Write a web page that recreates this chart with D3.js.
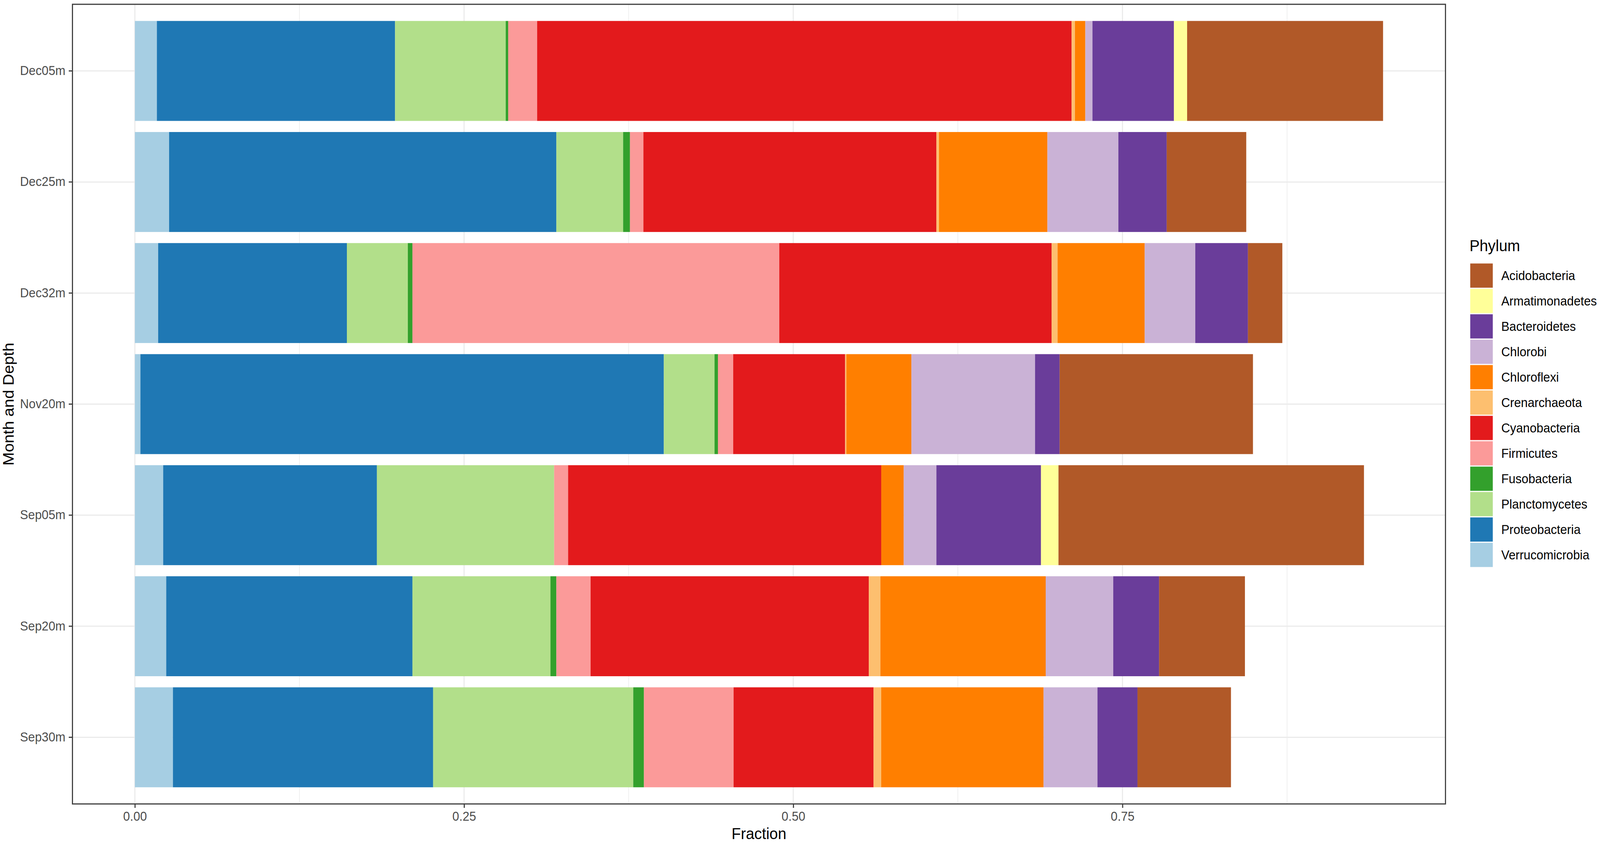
<!DOCTYPE html>
<html lang="en">

<head>
    <meta charset="utf-8">
    <title>Phylum by month and depth</title>
    <script type="text/javascript" src="https://cdn.jsdelivr.net/npm/d3@7"></script>
    <style>
        html, body { margin: 0; padding: 0; background: #ffffff; overflow: hidden; }
        #container { width: 100vw; height: 100vh; }
        svg { display: block; }
        text { font-family: "Liberation Sans", Arial, Helvetica, sans-serif; }
    </style>
</head>

<body>
    <div id="container"></div>
    <script type="text/javascript">
        // samples, top to bottom
        var samples = ["Dec05m", "Dec25m", "Dec32m", "Nov20m", "Sep05m", "Sep20m", "Sep30m"];

        // legend order (top to bottom); bars stack the other way round
        var phyla = ["Acidobacteria", "Armatimonadetes", "Bacteroidetes", "Chlorobi", "Chloroflexi",
            "Crenarchaeota", "Cyanobacteria", "Firmicutes", "Fusobacteria", "Planctomycetes",
            "Proteobacteria", "Verrucomicrobia"];
        var colours = ["#B15928", "#FFFF99", "#6A3D9A", "#CAB2D6", "#FF7F00", "#FDBF6F",
            "#E31A1C", "#FB9A99", "#33A02C", "#B2DF8A", "#1F78B4", "#A6CEE3"];

        // fraction of each phylum, same order as samples
        var acidobacteria   = [0.1488, 0.0604, 0.0261, 0.1468, 0.2320, 0.0652, 0.0710];
        var armatimonadetes = [0.0100, 0.0000, 0.0000, 0.0000, 0.0133, 0.0000, 0.0000];
        var bacteroidetes   = [0.0619, 0.0367, 0.0400, 0.0187, 0.0794, 0.0348, 0.0304];
        var chlorobi        = [0.0054, 0.0539, 0.0384, 0.0939, 0.0248, 0.0513, 0.0409];
        var chloroflexi     = [0.0079, 0.0823, 0.0662, 0.0494, 0.0171, 0.1255, 0.1233];
        var crenarchaeota   = [0.0025, 0.0020, 0.0045, 0.0009, 0.0000, 0.0088, 0.0058];
        var cyanobacteria   = [0.4059, 0.2225, 0.2068, 0.0850, 0.2378, 0.2113, 0.1063];
        var firmicutes      = [0.0220, 0.0102, 0.2786, 0.0116, 0.0106, 0.0260, 0.0681];
        var fusobacteria    = [0.0019, 0.0052, 0.0035, 0.0026, 0.0000, 0.0045, 0.0081];
        var planctomycetes  = [0.0840, 0.0507, 0.0463, 0.0385, 0.1346, 0.1048, 0.1520];
        var proteobacteria  = [0.1809, 0.2941, 0.1433, 0.3975, 0.1623, 0.1870, 0.1976];
        var verrucomicrobia = [0.0167, 0.0260, 0.0177, 0.0042, 0.0215, 0.0238, 0.0289];

        var xTicks = [0, 0.25, 0.5, 0.75];
        var xMinor = [0.125, 0.375, 0.625, 0.875];

        var values = [acidobacteria, armatimonadetes, bacteroidetes, chlorobi, chloroflexi,
            crenarchaeota, cyanobacteria, firmicutes, fusobacteria, planctomycetes,
            proteobacteria, verrucomicrobia];

        var w = 4328;
        var h = 2158;
        var panel = { left: 196, right: 3910, top: 11, bottom: 2058 };

        // drawn in 4328x2158 units, scaled to whatever the viewport is
        const svg = d3.select("div#container")
            .append("svg")
            .attr("viewBox", "0 0 " + w + " " + h)
            .attr("preserveAspectRatio", "none")
            .attr("width", "100%")
            .attr("height", "100%")
            .style("background-color", "#ffffff");

        // one row per sample for d3.stack
        var table = samples.map(function (s, i) {
            var row = { sample: s };
            phyla.forEach(function (p, j) { row[p] = values[j][i]; });
            return row;
        });
        var stackKeys = phyla.slice().reverse();
        var series = d3.stack().keys(stackKeys)(table);

        var color = d3.scaleOrdinal().domain(phyla).range(colours);

        // 5% expansion like ggplot
        var maxTotal = d3.max(series[series.length - 1], (d) => d[1]);
        var pad = maxTotal * 0.05;
        var x = d3.scaleLinear().domain([-pad, maxTotal + pad]).range([panel.left, panel.right]);
        var y = d3.scaleBand().domain(samples).range([panel.top, panel.bottom])
            .paddingInner(0.1).paddingOuter(0.15);

        // grid
        var grid = svg.append("g");
        grid.selectAll("line.minor")
            .data(xMinor)
            .enter()
            .append("line")
            .attr("x1", (d) => x(d)).attr("x2", (d) => x(d))
            .attr("y1", panel.top).attr("y2", panel.bottom)
            .attr("stroke", "#EBEBEB").attr("stroke-width", 1.6);
        grid.selectAll("line.majorx")
            .data(xTicks)
            .enter()
            .append("line")
            .attr("x1", (d) => x(d)).attr("x2", (d) => x(d))
            .attr("y1", panel.top).attr("y2", panel.bottom)
            .attr("stroke", "#EBEBEB").attr("stroke-width", 3);
        grid.selectAll("line.majory")
            .data(samples)
            .enter()
            .append("line")
            .attr("x1", panel.left).attr("x2", panel.right)
            .attr("y1", (d) => y(d) + y.bandwidth() / 2).attr("y2", (d) => y(d) + y.bandwidth() / 2)
            .attr("stroke", "#EBEBEB").attr("stroke-width", 3);

        // stacked bars
        svg.append("g")
            .selectAll("g")
            .data(series)
            .enter()
            .append("g")
            .attr("fill", (d) => color(d.key))
            .selectAll("rect")
            .data((d) => d)
            .enter()
            .append("rect")
            .attr("x", (d) => x(d[0]))
            .attr("width", (d) => Math.max(0, x(d[1]) - x(d[0])))
            .attr("y", (d) => y(d.data.sample))
            .attr("height", y.bandwidth());

        // panel border
        svg.append("rect")
            .attr("x", panel.left).attr("y", panel.top)
            .attr("width", panel.right - panel.left).attr("height", panel.bottom - panel.top)
            .attr("fill", "none").attr("stroke", "#3d3d3d").attr("stroke-width", 3);

        // axes
        var xAxis = d3.axisBottom(x).tickValues(xTicks).tickFormat(d3.format(".2f"))
            .tickSizeInner(10).tickSizeOuter(0).tickPadding(10);
        var gx = svg.append("g")
            .attr("transform", "translate(0," + panel.bottom + ")")
            .call(xAxis);
        var yAxis = d3.axisLeft(y).tickSizeInner(10).tickSizeOuter(0).tickPadding(9);
        var gy = svg.append("g")
            .attr("transform", "translate(" + panel.left + ",0)")
            .call(yAxis);

        [gx, gy].forEach(function (g) {
            g.select(".domain").remove();
            g.selectAll(".tick line").attr("stroke", "#3d3d3d").attr("stroke-width", 3);
            g.selectAll(".tick text")
                .attr("fill", "#4D4D4D")
                .style("font-size", "33px")
                .style("font-family", "'Liberation Sans', Arial, sans-serif");
        });

        // axis titles
        svg.append("text")
            .attr("x", (panel.left + panel.right) / 2)
            .attr("y", 2148)
            .attr("text-anchor", "middle")
            .style("font-size", "41px")
            .attr("fill", "#000")
            .text("Fraction");

        svg.append("text")
            .attr("transform", "translate(37," + (panel.top + panel.bottom) / 2 + ") rotate(-90)")
            .attr("text-anchor", "middle")
            .style("font-size", "41px")
            .attr("fill", "#000")
            .text("Month and Depth");

        // legend
        var legend = svg.append("g").attr("transform", "translate(3975,0)");
        legend.append("text")
            .attr("x", 0)
            .attr("y", 643)
            .style("font-size", "41px")
            .attr("fill", "#000")
            .text("Phylum");

        var keys = legend.selectAll("g.key")
            .data(phyla)
            .enter()
            .append("g")
            .attr("class", "key")
            .attr("transform", (d, i) => "translate(0," + (673 + i * 65) + ")");
        keys.append("rect")
            .attr("x", 2)
            .attr("y", 1.5)
            .attr("width", 61)
            .attr("height", 62)
            .attr("fill", (d) => color(d));
        keys.append("text")
            .attr("x", 86)
            .attr("y", 32.5)
            .attr("dominant-baseline", "central")
            .style("font-size", "33px")
            .attr("fill", "#000")
            .text((d) => d);
    </script>
</body>

</html>
